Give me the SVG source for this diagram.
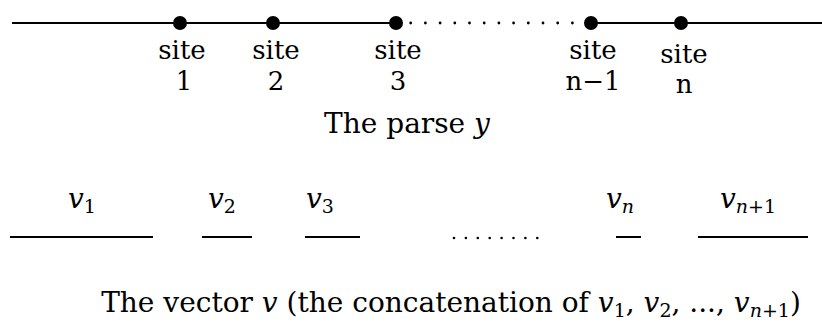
<svg xmlns="http://www.w3.org/2000/svg" width="822" height="323" viewBox="0 0 822 323">
<style>
.t{font-family:"DejaVu Serif","Liberation Serif",serif;font-size:28px;fill:#000;text-anchor:middle}
.lb{font-size:26px}
.m{font-family:"DejaVu Serif","Liberation Serif",serif;font-style:italic;font-size:28px;fill:#000}
.s{font-size:19px;font-style:normal}
.si{font-size:19px;font-style:italic}
.ln{stroke:#000;stroke-width:2;fill:none}
.dt{stroke:#000;stroke-width:2.8;stroke-linecap:round;stroke-dasharray:0 14.7;fill:none}
.dt2{stroke:#000;stroke-width:2.6;stroke-linecap:round;stroke-dasharray:0 11.9;fill:none}
</style>
<rect width="822" height="323" fill="#fff"/>
<g id="connectors">
<line class="ln" x1="12" y1="23" x2="396" y2="23"/>
<path class="dt" d="M410.7 23 H578"/>
<line class="ln" x1="591" y1="23" x2="822" y2="23"/>
<line class="ln" x1="10" y1="237" x2="153" y2="237"/>
<line class="ln" x1="202" y1="237" x2="252" y2="237"/>
<line class="ln" x1="305" y1="237" x2="360" y2="237"/>
<path class="dt2" d="M454 238 H549"/>
<line class="ln" x1="616" y1="237" x2="641" y2="237"/>
<line class="ln" x1="698" y1="237" x2="808" y2="237"/>
</g>
<g id="site1"><circle cx="180" cy="23" r="7"/><text class="t lb" x="182" y="59">site</text><text class="t lb" x="184" y="90">1</text></g>
<g id="site2"><circle cx="273" cy="23" r="7"/><text class="t lb" x="276" y="59">site</text><text class="t lb" x="276" y="90">2</text></g>
<g id="site3"><circle cx="396" cy="23" r="7"/><text class="t lb" x="398" y="59">site</text><text class="t lb" x="398" y="90">3</text></g>
<g id="siten1"><circle cx="591" cy="23" r="7"/><text class="t lb" x="593" y="59">site</text><text class="t lb" x="593" y="90">n−1</text></g>
<g id="siten"><circle cx="681" cy="23" r="7"/><text class="t lb" x="684" y="63">site</text><text class="t lb" x="684" y="93">n</text></g>
<g id="parse-caption"><text class="t" x="407" y="133">The parse <tspan class="m">y</tspan></text></g>
<g id="v1"><text class="m" x="68" y="208">v<tspan class="s" dy="5">1</tspan></text></g>
<g id="v2"><text class="m" x="208" y="208">v<tspan class="s" dy="5">2</tspan></text></g>
<g id="v3"><text class="m" x="306" y="208">v<tspan class="s" dy="5">3</tspan></text></g>
<g id="vn"><text class="m" x="606" y="208">v<tspan class="si" dy="5">n</tspan></text></g>
<g id="vn1"><text class="m" x="720" y="208">v<tspan class="si" dy="5">n</tspan><tspan class="s">+1</tspan></text></g>
<g id="vector-caption"><text class="t" x="451" y="312">The vector <tspan class="m">v</tspan> (the concatenation of <tspan class="m">v</tspan><tspan class="s" dy="5">1</tspan><tspan dy="-5">, </tspan><tspan class="m">v</tspan><tspan class="s" dy="5">2</tspan><tspan dy="-5">, ..., </tspan><tspan class="m">v</tspan><tspan class="si" dy="5">n</tspan><tspan class="s">+1</tspan><tspan dy="-5">)</tspan></text></g>
</svg>
